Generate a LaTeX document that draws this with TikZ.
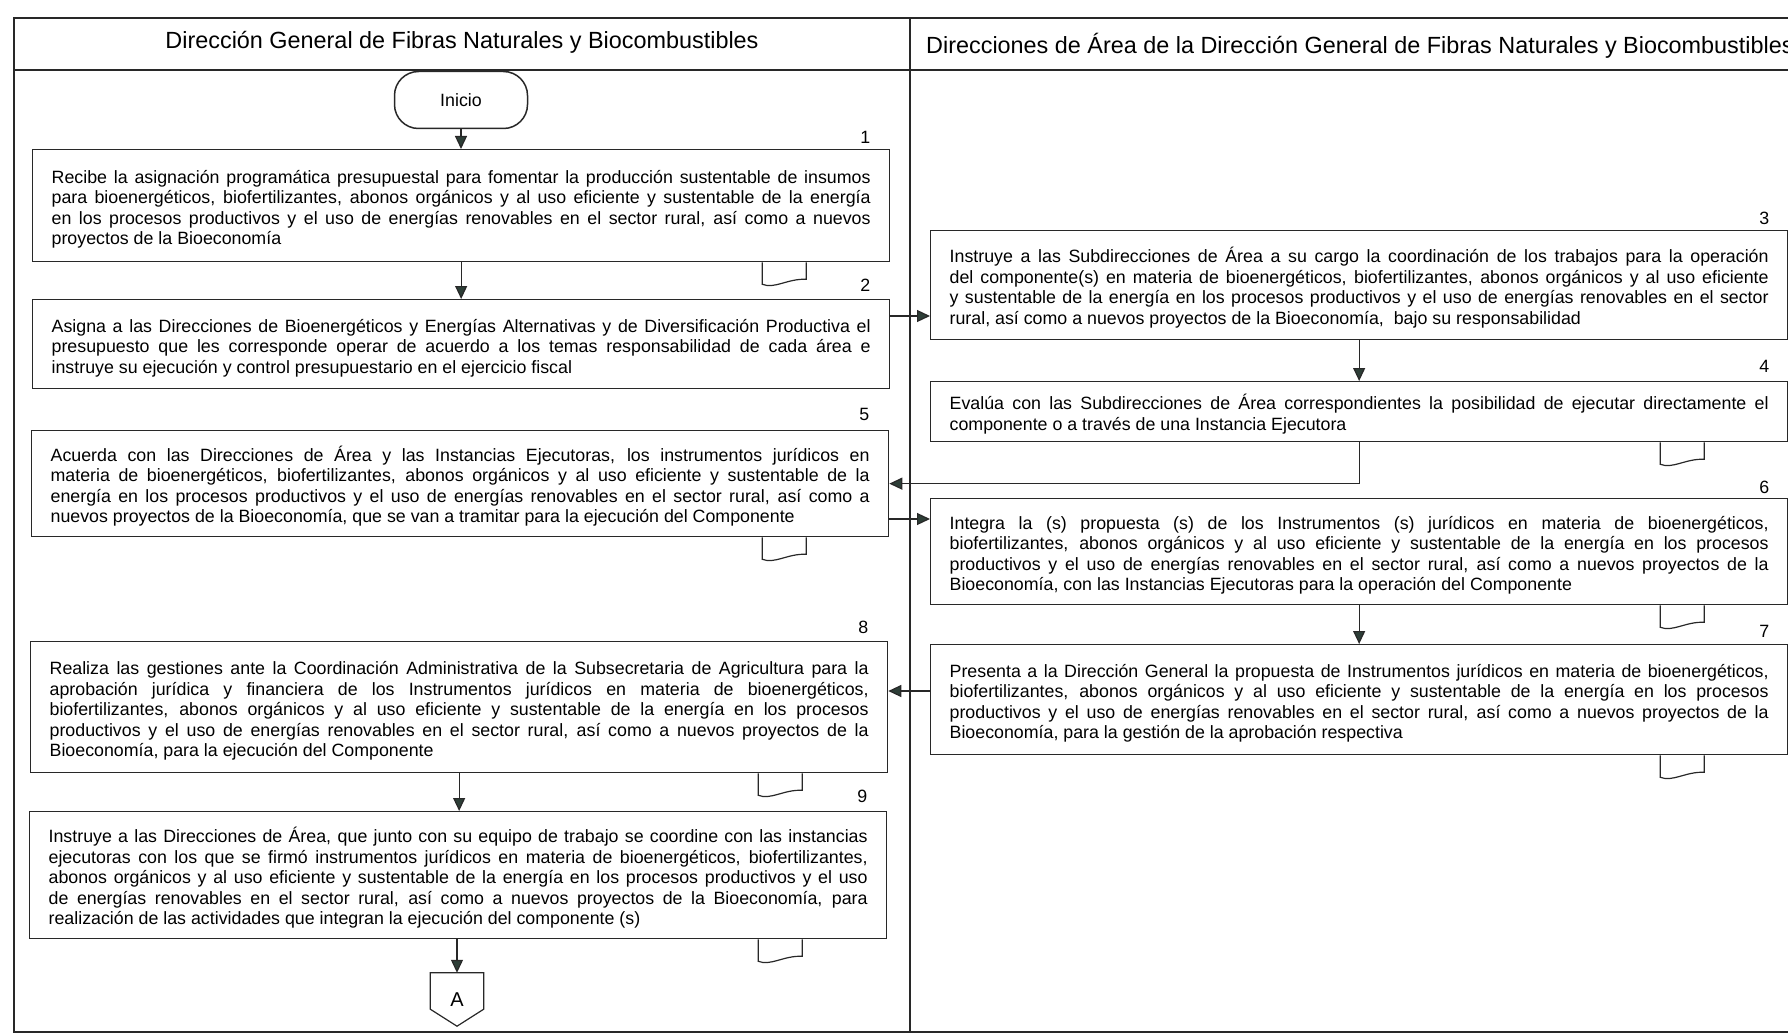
\documentclass[tikz,border=0pt]{standalone}
\usepackage{fontspec}
\setmainfont{Liberation Sans}
\usetikzlibrary{arrows.meta}
\definecolor{linec}{RGB}{40,40,40}
\definecolor{arrowc}{RGB}{45,62,55}
\newcommand\jl[1]{\par\noindent\hbox to 819pt{\spaceskip=0pt\xspaceskip=0pt #1}\par}
\newcommand\lastl[1]{\par\noindent\hbox{\spaceskip=0pt\xspaceskip=0pt #1}\par}
\begin{document}
\begin{tikzpicture}[x=1pt,y=-1pt,
  frameline/.style={line width=1.8pt,draw=linec},
  stepbox/.style={draw=linec,line width=1.3pt,rectangle,text width=819pt,
    inner xsep=19pt,inner ysep=0pt,align=left,anchor=north west,
    font=\fontsize{17.8}{20.5}\selectfont},
  numlab/.style={inner sep=0pt,anchor=south,font=\fontsize{17.8}{20.5}\selectfont},
  headtxt/.style={inner sep=0pt,font=\fontsize{23.4}{26}\selectfont},
  arr/.style={draw=linec,line width=1.2pt,-{Triangle[length=13pt,width=12pt,fill=arrowc]}},
  docline/.style={draw=linec,line width=1.2pt},
  docsym/.pic={\draw[docline] (0,0) -- (0,22) .. controls (12,27) and (26,16) .. (44,17) -- (44,0);}
]
\useasboundingbox (0,0) rectangle (1788,1035);
% frame
\draw[frameline] (1788,18) -- (14,18) -- (14,1032) -- (1788,1032);
\draw[frameline] (14,70) -- (1788,70);
\draw[frameline] (910,18) -- (910,1032);
\node[headtxt] (h1) at (462,42) {Dirección General de Fibras Naturales y Biocombustibles};
\node[headtxt,anchor=west] (h2) at (926,46) {Direcciones de Área de la Dirección General de Fibras Naturales y Biocombustibles};

% start
\node[draw=linec,line width=1.5pt,rounded corners=24pt,minimum width=133pt,minimum height=57pt,
  font=\fontsize{17.8}{20.5}\selectfont] (ini) at (461,100) {Inicio};

% left column
\node[stepbox,minimum height=112pt] (b1) at (32,149) {%
\jl{Recibe la asignación programática presupuestal para fomentar la producción sustentable de insumos}%
\jl{para bioenergéticos, biofertilizantes, abonos orgánicos y al uso eficiente y sustentable de la energía}%
\jl{en los procesos productivos y el uso de energías renovables en el sector rural, así como a nuevos}%
\lastl{proyectos de la Bioeconomía}};
\node[stepbox,minimum height=89pt] (b2) at (32,299) {%
\jl{Asigna a las Direcciones de Bioenergéticos y Energías Alternativas y de Diversificación Productiva el}%
\jl{presupuesto que les corresponde operar de acuerdo a los temas responsabilidad de cada área e}%
\lastl{instruye su ejecución y control presupuestario en el ejercicio fiscal}};
\node[stepbox,minimum height=106pt] (b5) at (31,430) {%
\jl{Acuerda con las Direcciones de Área y las Instancias Ejecutoras, los instrumentos jurídicos en}%
\jl{materia de bioenergéticos, biofertilizantes, abonos orgánicos y al uso eficiente y sustentable de la}%
\jl{energía en los procesos productivos y el uso de energías renovables en el sector rural, así como a}%
\lastl{nuevos proyectos de la Bioeconomía, que se van a tramitar para la ejecución del Componente}};
\node[stepbox,minimum height=131pt] (b8) at (30,641) {%
\jl{Realiza las gestiones ante la Coordinación Administrativa de la Subsecretaria de Agricultura para la}%
\jl{aprobación jurídica y financiera de los Instrumentos jurídicos en materia de bioenergéticos,}%
\jl{biofertilizantes, abonos orgánicos y al uso eficiente y sustentable de la energía en los procesos}%
\jl{productivos y el uso de energías renovables en el sector rural, así como a nuevos proyectos de la}%
\lastl{Bioeconomía, para la ejecución del Componente}};
\node[stepbox,minimum height=127pt] (b9) at (29,811) {%
\jl{Instruye a las Direcciones de Área, que junto con su equipo de trabajo se coordine con las instancias}%
\jl{ejecutoras con los que se firmó instrumentos jurídicos en materia de bioenergéticos, biofertilizantes,}%
\jl{abonos orgánicos y al uso eficiente y sustentable de la energía en los procesos productivos y el uso}%
\jl{de energías renovables en el sector rural, así como a nuevos proyectos de la Bioeconomía, para}%
\lastl{realización de las actividades que integran la ejecución del componente (s)}};

% right column
\node[stepbox,minimum height=109pt] (b3) at (930,230) {%
\jl{Instruye a las Subdirecciones de Área a su cargo la coordinación de los trabajos para la operación}%
\jl{del componente(s) en materia de bioenergéticos, biofertilizantes, abonos orgánicos y al uso eficiente}%
\jl{y sustentable de la energía en los procesos productivos y el uso de energías renovables en el sector}%
\lastl{rural, así como a nuevos proyectos de la Bioeconomía,~ bajo su responsabilidad}};
\node[stepbox,minimum height=60pt] (b4) at (930,381) {%
\jl{Evalúa con las Subdirecciones de Área correspondientes la posibilidad de ejecutar directamente el}%
\lastl{componente o a través de una Instancia Ejecutora}};
\node[stepbox,minimum height=106pt] (b6) at (930,498) {%
\jl{Integra la (s) propuesta (s) de los Instrumentos (s) jurídicos en materia de bioenergéticos,}%
\jl{biofertilizantes, abonos orgánicos y al uso eficiente y sustentable de la energía en los procesos}%
\jl{productivos y el uso de energías renovables en el sector rural, así como a nuevos proyectos de la}%
\lastl{Bioeconomía, con las Instancias Ejecutoras para la operación del Componente}};
\node[stepbox,minimum height=110pt] (b7) at (930,644) {%
\jl{Presenta a la Dirección General la propuesta de Instrumentos jurídicos en materia de bioenergéticos,}%
\jl{biofertilizantes, abonos orgánicos y al uso eficiente y sustentable de la energía en los procesos}%
\jl{productivos y el uso de energías renovables en el sector rural, así como a nuevos proyectos de la}%
\lastl{Bioeconomía, para la gestión de la aprobación respectiva}};

% off-page connector
\node[inner sep=0pt,minimum width=53pt,minimum height=53pt,font=\fontsize{20}{22}\selectfont] (A) at (457,999.5) {A};
\draw[docline] (A.north west) -- (A.north east) -- ([yshift=17pt]A.south east) -- (A.south) -- ([yshift=17pt]A.south west) -- cycle;

% numbers
\node[numlab] (n1) at ([xshift=-25pt,yshift=5pt]b1.north east) {1};
\node[numlab] (n2) at ([xshift=-25pt,yshift=7pt]b2.north east) {2};
\node[numlab] (n5) at ([xshift=-25pt,yshift=9pt]b5.north east) {5};
\node[numlab] (n8) at ([xshift=-25pt,yshift=7pt]b8.north east) {8};
\node[numlab] (n9) at ([xshift=-25pt,yshift=8pt]b9.north east) {9};
\node[numlab] (n3) at ([xshift=-24pt,yshift=5pt]b3.north east) {3};
\node[numlab] (n4) at ([xshift=-24pt,yshift=8pt]b4.north east) {4};
\node[numlab] (n6) at ([xshift=-24pt,yshift=4pt]b6.north east) {6};
\node[numlab] (n7) at ([xshift=-24pt,yshift=6pt]b7.north east) {7};

% document symbols
\pic at ([xshift=-128pt]b1.south east) {docsym};
\pic at ([xshift=-127pt]b5.south east) {docsym};
\pic at ([xshift=-130pt]b8.south east) {docsym};
\pic at ([xshift=-129pt]b9.south east) {docsym};
\pic at ([xshift=-128pt]b4.south east) {docsym};
\pic at ([xshift=-128pt]b6.south east) {docsym};
\pic at ([xshift=-128pt]b7.south east) {docsym};

% connectors
\coordinate (y23) at (0,316);
\coordinate (y56) at (0,519);
\coordinate (y78) at (0,691);
\draw[arr] (ini.south) -- (ini.south |- b1.north);
\draw[arr] (b1.south) -- (b1.south |- b2.north);
\draw[arr] (b2.east |- y23) -- (b3.west |- y23);
\draw[arr] (b3.south) -- (b3.south |- b4.north);
\draw[arr] (b4.south) |- (b5.east);
\draw[arr] (b5.east |- y56) -- (b6.west |- y56);
\draw[arr] (b6.south) -- (b6.south |- b7.north);
\draw[arr] (b7.west |- y78) -- (b8.east |- y78);
\draw[arr] (b8.south) -- (b8.south |- b9.north);
\draw[arr] (b9.south -| A.north) -- (A.north);
\end{tikzpicture}
\end{document}
